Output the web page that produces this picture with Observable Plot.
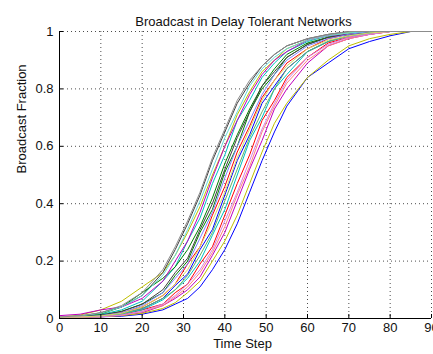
<!DOCTYPE html>
<html><head><meta charset="utf-8">
<script src="https://cdn.jsdelivr.net/npm/d3@7"></script>
<script src="https://cdn.jsdelivr.net/npm/@observablehq/plot@0.6"></script>
<style>html,body{margin:0;padding:0;background:#fff}svg{display:block}</style>
</head><body><div id="chart"></div>
<script>
const title = "Broadcast in Delay Tolerant Networks";
const xLabel = "Time Step";
const yLabel = "Broadcast Fraction";
const xTicks = [0, 10, 20, 30, 40, 50, 60, 70, 80, 90];
const yTicks = [0, 0.2, 0.4, 0.6, 0.8, 1];

const timeSteps = [0, 5, 10, 15, 20, 25, 28, 31, 34, 37, 40, 43, 46, 49, 52, 55, 60, 65, 70, 75, 80, 85, 90];

const s01 = [0.005,0.006,0.01,0.018,0.034,0.07,0.115,0.155,0.24,0.31,0.43,0.55,0.64,0.75,0.81,0.87,0.93,0.965,0.985,0.995,1,1,1];
const s02 = [0.005,0.008,0.012,0.025,0.05,0.09,0.15,0.2,0.3,0.38,0.51,0.6,0.72,0.8,0.85,0.91,0.955,0.98,0.99,1,1,1,1];
const s03 = [0.005,0.005,0.008,0.012,0.03,0.05,0.09,0.12,0.19,0.25,0.36,0.47,0.57,0.69,0.76,0.84,0.91,0.96,0.98,0.99,1,1,1];
const s04 = [0.005,0.007,0.014,0.03,0.06,0.13,0.18,0.27,0.35,0.47,0.57,0.69,0.76,0.84,0.89,0.93,0.965,0.985,0.995,1,1,1,1];
const s05 = [0.005,0.005,0.006,0.01,0.02,0.045,0.07,0.1,0.145,0.22,0.3,0.41,0.52,0.62,0.73,0.8,0.89,0.95,0.975,0.99,1,1,1];
const s06 = [0.005,0.012,0.03,0.06,0.11,0.16,0.22,0.3,0.39,0.5,0.6,0.71,0.79,0.86,0.9,0.94,0.97,0.985,0.995,1,1,1,1];
const s07 = [0.005,0.008,0.02,0.04,0.08,0.16,0.24,0.33,0.43,0.55,0.65,0.75,0.82,0.88,0.92,0.95,0.975,0.99,1,1,1,1,1];
const s08 = [0.005,0.005,0.006,0.008,0.015,0.03,0.05,0.07,0.11,0.17,0.24,0.33,0.44,0.55,0.65,0.74,0.84,0.89,0.94,0.965,0.985,1,1];
const s09 = [0.005,0.008,0.016,0.04,0.09,0.14,0.18,0.24,0.32,0.42,0.54,0.64,0.73,0.81,0.87,0.92,0.96,0.98,0.99,1,1,1,1];
const s10 = [0.005,0.005,0.01,0.02,0.04,0.08,0.12,0.19,0.25,0.36,0.46,0.58,0.67,0.77,0.83,0.89,0.94,0.975,0.99,1,1,1,1];
const s11 = [0.005,0.006,0.008,0.016,0.03,0.065,0.1,0.14,0.2,0.29,0.38,0.5,0.62,0.7,0.8,0.85,0.93,0.965,0.985,0.995,1,1,1];
const s12 = [0.01,0.015,0.03,0.04,0.07,0.13,0.2,0.27,0.37,0.49,0.6,0.69,0.78,0.85,0.9,0.93,0.97,0.985,0.99,1,1,1,1];
const s13 = [0.005,0.005,0.006,0.01,0.018,0.035,0.055,0.09,0.13,0.2,0.27,0.36,0.47,0.58,0.68,0.75,0.84,0.9,0.95,0.975,0.99,1,1];
const s14 = [0.005,0.006,0.012,0.024,0.05,0.1,0.16,0.21,0.31,0.4,0.52,0.63,0.72,0.81,0.86,0.91,0.955,0.98,0.99,1,1,1,1];
const s15 = [0.005,0.005,0.01,0.02,0.045,0.09,0.14,0.19,0.28,0.37,0.49,0.6,0.69,0.78,0.85,0.9,0.95,0.975,0.99,1,1,1,1];
const s16 = [0.005,0.005,0.008,0.016,0.035,0.07,0.1,0.15,0.22,0.3,0.41,0.52,0.63,0.72,0.8,0.87,0.93,0.965,0.985,0.995,1,1,1];
const s17 = [0.005,0.005,0.006,0.011,0.024,0.045,0.075,0.11,0.16,0.23,0.32,0.43,0.53,0.65,0.74,0.82,0.9,0.95,0.975,0.99,1,1,1];
const s18 = [0.005,0.009,0.018,0.04,0.08,0.15,0.22,0.31,0.41,0.52,0.63,0.72,0.81,0.87,0.91,0.94,0.97,0.985,0.995,1,1,1,1];
const s19 = [0.005,0.005,0.006,0.012,0.025,0.05,0.08,0.12,0.17,0.24,0.34,0.44,0.55,0.66,0.75,0.83,0.91,0.955,0.98,0.99,1,1,1];
const s20 = [0.005,0.005,0.009,0.018,0.04,0.08,0.12,0.17,0.25,0.34,0.44,0.56,0.66,0.76,0.83,0.88,0.94,0.97,0.985,0.995,1,1,1];
const s21 = [0.005,0.01,0.02,0.045,0.09,0.17,0.25,0.34,0.44,0.56,0.66,0.76,0.83,0.88,0.92,0.95,0.975,0.99,1,1,1,1,1];

const seriesColors = [
  "#0000ff","#008000","#ff0000","#00bfbf","#bf00bf","#bfbf00","#404040",
  "#0000ff","#008000","#ff0000","#00bfbf","#bf00bf","#bfbf00","#404040",
  "#8080ff","#66b366","#ff8080","#66d9d9","#d580e6","#d9d966","#8c8c8c"
];
const seriesValues = [s01,s02,s03,s04,s05,s06,s07,s08,s09,s10,s11,s12,s13,s14,s15,s16,s17,s18,s19,s20,s21];

const rows = seriesValues.flatMap((vals, i) => vals.map((v, j) => ({t: timeSteps[j], v, series: i})));

const W = 433, H = 354, mL = 59, mR = 2, mT = 31, mB = 36;
const fw = W - mL - mR, fh = H - mT - mB;
const font = "'Liberation Sans', Arial, Helvetica, sans-serif";

const chart = Plot.plot({
  width: W, height: H,
  marginLeft: mL, marginRight: mR, marginTop: mT, marginBottom: mB,
  style: {fontFamily: font, fontSize: "13px", color: "#111", background: "#fff", overflow: "hidden"},
  x: {domain: [0, 90]},
  y: {domain: [0, 1]},
  marks: [
    Plot.gridX(xTicks, {stroke: "#000", strokeOpacity: 0.7, strokeDasharray: "1,3"}),
    Plot.gridY(yTicks, {stroke: "#000", strokeOpacity: 0.7, strokeDasharray: "1,3"}),
    Plot.line(rows, {x: "t", y: "v", z: "series", stroke: d => seriesColors[d.series], strokeWidth: 1}),
    Plot.ruleX([0], {stroke: "#000"}),
    Plot.ruleY([0], {stroke: "#000"}),
    Plot.tickY(yTicks, {y: d => d, insetRight: fw - 4, stroke: "#000"}),
    Plot.tickX(xTicks, {x: d => d, insetTop: fh - 4, stroke: "#000"}),
    Plot.axisX(xTicks, {tickSize: 0, tickPadding: 4, label: null, fontSize: 13}),
    Plot.axisY(yTicks, {tickSize: 0, tickPadding: 6, label: null, fontSize: 13, tickFormat: d => String(d)}),
    Plot.text([title], {frameAnchor: "top", dy: -15, dx: -2, fontSize: 13, fill: "#111"}),
    Plot.text([xLabel], {frameAnchor: "bottom", dy: 29, dx: -3, fontSize: 13, fill: "#111"}),
    Plot.text([yLabel], {frameAnchor: "left", rotate: -90, dx: -38, dy: -1.5, fontSize: 13, fill: "#111"})
  ]
});
document.getElementById("chart").appendChild(chart);
</script>
</body></html>
